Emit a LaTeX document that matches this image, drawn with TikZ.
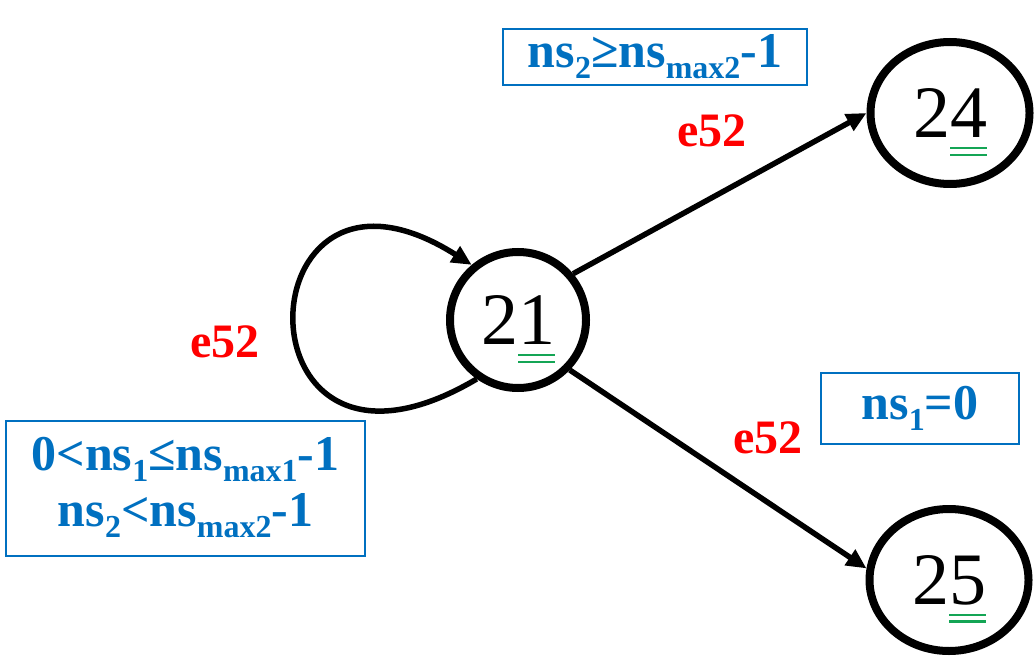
\documentclass[tikz,border=0pt]{standalone}
\usepackage{fontspec}
\setmainfont{Liberation Serif}
\usetikzlibrary{arrows.meta,shapes.geometric}
\definecolor{condblue}{RGB}{0,112,192}
\definecolor{evred}{RGB}{255,0,0}
\definecolor{markgreen}{RGB}{20,165,85}
\newcommand\lo[1]{\raisebox{-11pt}{\fontsize{32}{32}\selectfont #1}}
\newcommand\dul[1]{\setbox0\hbox{#1}%
  \rlap{\smash{\color{markgreen}\rule[-0.16em]{\wd0}{0.03em}}}%
  \rlap{\smash{\color{markgreen}\rule[-0.25em]{\wd0}{0.03em}}}\box0}

\begin{document}
\begin{tikzpicture}[x=1pt, y=-1pt,
    state/.style={circle, draw, line width=8pt, minimum size=136pt, inner sep=0pt,
                  font=\fontsize{74}{74}\selectfont},
    wstate/.style={state, ellipse, minimum width=159pt, minimum height=142pt},
    trans/.style={line width=5.5pt, -{Triangle[length=20pt,width=18pt]}},
    evlabel/.style={text=evred, font=\fontsize{48}{48}\selectfont\bfseries},
    cond/.style={draw=condblue, line width=2pt, text=condblue, align=center, inner sep=0pt,
                 font=\fontsize{50}{56}\selectfont\bfseries}
]
    \useasboundingbox (0,0) rectangle (1035,660);
    % states
    \node[state] (n21) at (518,320) {2\dul{1}};
    \node[wstate] (n24) at (950,113) {2\dul{4}};
    \node[wstate] (n25) at (949,580) {2\dul{5}};
    % transitions
    \draw[trans] (n21.235) .. controls (230,525) and (240,118) .. (n21.130);
    \draw[trans] (n21.40) -- (n24.180);
    \draw[trans] (n21.-44) -- (n25.172);
    \node[evlabel] (e24) at (712,131) {e52};
    \node[evlabel] (eloop) at (225,342) {e52};
    \node[evlabel] (e25) at (768,438) {e52};
    % guards
    \node[cond, minimum width=304pt, minimum height=56pt] (c24) at (655,57)
        {ns\lo{2}≥ns\lo{max2}-1};
    \node[cond, minimum width=198pt, minimum height=71pt] (c25) at (920,408)
        {ns\lo{1}=0};
    \node[cond, minimum width=359pt, minimum height=135pt] (cloop) at (185.5,488)
        {0<ns\lo{1}≤ns\lo{max1}-1\\ns\lo{2}<ns\lo{max2}-1};
\end{tikzpicture}
\end{document}
